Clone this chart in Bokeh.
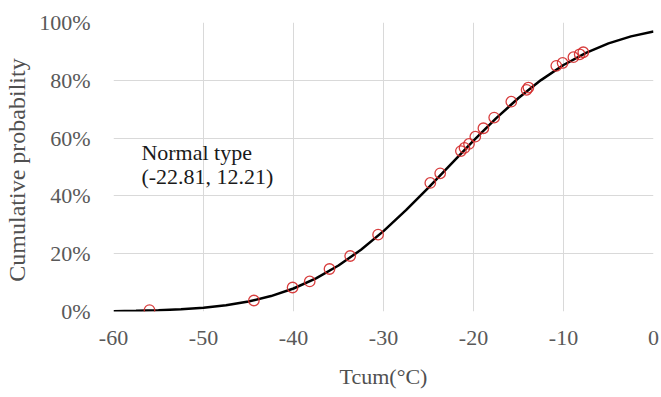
from bokeh.plotting import figure
from bokeh.models import Range1d, FixedTicker, NumeralTickFormatter, Label
from bokeh.embed import file_html
from bokeh.resources import INLINE

# Fitted curve
curve_x = [-60, -57.5, -55, -52.5, -50, -47.5, -45, -42.5, -40, -37.5, -35, -32.5,
           -30, -27.5, -25, -22.5, -20, -17.5, -15, -12.5, -10, -7.5, -5, -2.5, 0]
curve_y = [0.0012, 0.0022, 0.0042, 0.0075, 0.0130, 0.0216, 0.0345, 0.0534, 0.0796,
           0.1145, 0.1591, 0.2137, 0.2780, 0.3505, 0.4289, 0.5101, 0.5911, 0.6682,
           0.7388, 0.8007, 0.8530, 0.8951, 0.9277, 0.9519, 0.9691]

# Observed points
obs_x = [-56.0, -44.4, -40.1, -38.2, -36.0, -33.7, -30.6, -24.8, -23.7, -21.4, -21.0,
         -20.5, -19.8, -18.9, -17.7, -15.8, -14.1, -13.9, -10.8, -10.1, -8.9, -8.2, -7.8]
obs_y = [0.005, 0.038, 0.083, 0.104, 0.147, 0.192, 0.266, 0.445, 0.478, 0.555, 0.566,
         0.580, 0.605, 0.634, 0.671, 0.726, 0.767, 0.775, 0.850, 0.860, 0.880, 0.890, 0.897]

x_ticks = [-60, -50, -40, -30, -20, -10, 0]
x_tick_labels = ["-60", "-50", "-40", "-30", "-20", "-10", "0"]
y_ticks = [0, 0.2, 0.4, 0.6, 0.8, 1.0]

FONT = "'Liberation Serif', 'Times New Roman', serif"

p = figure(width=661, height=397, output_backend="svg", toolbar_location=None,
           x_range=Range1d(-60, 0), y_range=Range1d(0, 1),
           min_border_left=113, min_border_right=8, min_border_top=22,
           min_border_bottom=86)
p.outline_line_color = None
p.background_fill_color = "white"
p.border_fill_color = "white"

for ax in (p.xaxis[0], p.yaxis[0]):
    ax.axis_line_color = None
    ax.major_tick_line_color = None
    ax.minor_tick_line_color = None
    ax.major_label_text_font = FONT
    ax.major_label_text_font_size = "22px"
    ax.major_label_text_color = "#595959"
    ax.axis_label_text_font = FONT
    ax.axis_label_text_font_style = "normal"
    ax.axis_label_text_color = "#505050"

p.xaxis.axis_label_text_font_size = "22px"
p.yaxis.axis_label_text_font_size = "24px"
p.xaxis.ticker = FixedTicker(ticks=x_ticks)
p.xaxis.major_label_overrides = dict(zip(x_ticks, x_tick_labels))
p.yaxis.ticker = FixedTicker(ticks=y_ticks)
p.yaxis.formatter = NumeralTickFormatter(format="0%")
p.xaxis.axis_label = "Tcum(°C)"
p.yaxis.axis_label = "Cumulative  probability"
p.xaxis.major_label_standoff = 13
p.yaxis.major_label_standoff = 17
p.xaxis.axis_label_standoff = 16
p.yaxis.axis_label_standoff = 6

p.xgrid.grid_line_color = "#d9d9d9"
p.ygrid.grid_line_color = "#d9d9d9"
p.xgrid.grid_line_width = 1
p.ygrid.grid_line_width = 1

p.line(curve_x, curve_y, line_color="black", line_width=2.5)
p.scatter(obs_x, obs_y, marker="circle", size=10.5, fill_color=None,
          line_color="#d42a2a", line_width=1.3, line_alpha=0.9)

p.add_layout(Label(x=-56.9, y=0.595, text="Normal type", text_font=FONT,
                   text_font_size="22px", text_color="#1a1a1a", text_baseline="top"))
p.add_layout(Label(x=-56.9, y=0.512, text="(-22.81, 12.21)", text_font=FONT,
                   text_font_size="22px", text_color="#1a1a1a", text_baseline="top"))

open("out.html", "w").write(file_html(p, INLINE))
